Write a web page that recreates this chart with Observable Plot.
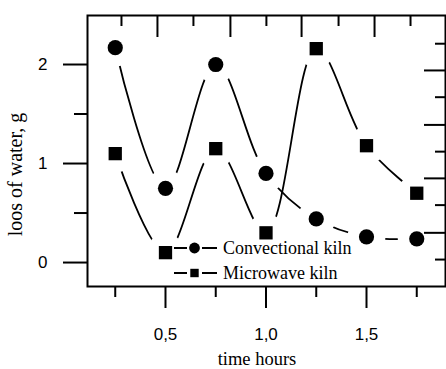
<!DOCTYPE html>
<html><head><meta charset="utf-8">
<script src="https://cdn.jsdelivr.net/npm/d3@7"></script>
<script src="https://cdn.jsdelivr.net/npm/@observablehq/plot@0.6"></script>
<style>body{margin:0;background:#fff} #chart{width:446px;height:369px}</style>
</head><body><div id="chart"></div>
<script>
const times = [0.25, 0.5, 0.75, 1.0, 1.25, 1.5, 1.75];
const convectional = [2.17, 0.75, 2.00, 0.90, 0.44, 0.26, 0.24];
const microwave = [1.10, 0.10, 1.15, 0.30, 2.16, 1.18, 0.70];
const seriesNames = ["Convectional kiln", "Microwave kiln"];
const xMajorTicks = [0.5, 1.0, 1.5];
const xMinorTicks = [0.25, 0.75, 1.25, 1.75];
const yMajorTicks = [0, 1, 2];
const yMinorTicks = [0.5, 1.5];
const topMajorTicks = [0.46, 0.823, 1.177, 1.54];
const topMinorTicks = [0.281, 0.639, 1.002, 1.361, 1.719];
const rightMajorTicks = [1.94, 1.39, 0.85, 0.30];
const rightMinorTicks = [2.21, 1.67, 1.12, 0.58, 0.03];
const xTitle = "time hours";
const yTitle = "loos of water, g";

const conv = times.map((t, i) => ({t, v: convectional[i]}));
const micro = times.map((t, i) => ({t, v: microwave[i]}));

const W = 446, H = 369, mL = 87, mR = 1, mT = 15, mB = 83;
const fw = W - mL - mR, fh = H - mT - mB;
const sans = "'Liberation Sans', Arial, sans-serif";
const serif = "'Liberation Serif', 'Times New Roman', serif";
const fmt = d => d.toFixed(1).replace(".", ",");
const gap = 19;

const plot = Plot.plot({
  width: W, height: H,
  marginLeft: mL, marginRight: mR, marginTop: mT, marginBottom: mB,
  style: {fontFamily: sans, fontSize: "17px", background: "white", color: "black", overflow: "visible"},
  x: {domain: [0.112, 1.893]},
  y: {domain: [-0.242, 2.495]},
  marks: [
    Plot.line(conv, {x: "t", y: "v", curve: "catmull-rom", stroke: "black", strokeWidth: 1.8}),
    Plot.dot(conv, {x: "t", y: "v", r: gap, fill: "white", stroke: null}),
    Plot.line(micro, {x: "t", y: "v", curve: "catmull-rom", stroke: "black", strokeWidth: 1.8}),
    Plot.dot(micro, {x: "t", y: "v", r: gap, fill: "white", stroke: null}),
    Plot.dot(conv, {x: "t", y: "v", r: 7.6, fill: "black", symbol: "circle"}),
    Plot.dot(micro, {x: "t", y: "v", r: 7.5, fill: "black", symbol: "square"}),
    Plot.frame({stroke: "black", strokeWidth: 2}),
    Plot.axisX(xMajorTicks, {tickSize: 22, tickPadding: 19, strokeWidth: 2, tickFormat: fmt, label: null}),
    Plot.axisX(xMinorTicks, {tickSize: 11, strokeWidth: 2, tickFormat: () => "", label: null}),
    Plot.axisY(yMajorTicks, {tickSize: 24, tickPadding: 16, strokeWidth: 2, tickFormat: d => String(d), label: null}),
    Plot.axisY(yMinorTicks, {tickSize: 13, strokeWidth: 2, tickFormat: () => "", label: null}),
    Plot.tickX(topMajorTicks, {x: d => d, insetBottom: fh - 22, stroke: "black", strokeWidth: 2}),
    Plot.tickX(topMinorTicks, {x: d => d, insetBottom: fh - 11, stroke: "black", strokeWidth: 2}),
    Plot.tickY(rightMajorTicks, {y: d => d, insetLeft: fw - 21, stroke: "black", strokeWidth: 2}),
    Plot.tickY(rightMinorTicks, {y: d => d, insetLeft: fw - 10, stroke: "black", strokeWidth: 2})
  ]
});
document.getElementById("chart").appendChild(plot);

const svg = d3.select(plot);
// Axis titles
svg.append("text").attr("x", 257).attr("y", 365).attr("text-anchor", "middle")
  .attr("font-family", serif).attr("font-size", 18.5).attr("fill", "black").text(xTitle);
svg.append("text").attr("transform", "translate(21.7,174.5) rotate(-90)").attr("text-anchor", "middle")
  .attr("font-family", serif).attr("font-size", 20).attr("fill", "black").text(yTitle);

// Legend
const leg = svg.append("g").attr("font-family", serif).attr("font-size", 18).attr("text-anchor", "start");
const rows = [{name: seriesNames[0], sym: "circle", y: 248}, {name: seriesNames[1], sym: "square", y: 273}];
for (const r of rows) {
  leg.append("line").attr("x1", 174).attr("x2", 187).attr("y1", r.y).attr("y2", r.y).attr("stroke", "black").attr("stroke-width", 2);
  leg.append("line").attr("x1", 202).attr("x2", 217).attr("y1", r.y).attr("y2", r.y).attr("stroke", "black").attr("stroke-width", 2);
  if (r.sym === "circle") {
    leg.append("circle").attr("cx", 194.5).attr("cy", r.y).attr("r", 5.4).attr("fill", "black");
  } else {
    leg.append("rect").attr("x", 194.5 - 4.2).attr("y", r.y - 4.2).attr("width", 8.4).attr("height", 8.4).attr("fill", "black");
  }
  leg.append("text").attr("x", 223).attr("y", r.y + 6).attr("fill", "black").text(r.name);
}
</script>
</body></html>
